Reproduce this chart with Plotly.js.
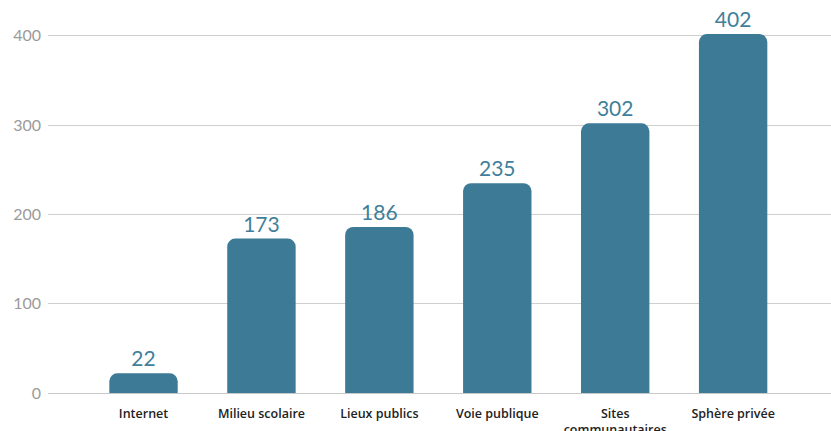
<!DOCTYPE html>
<html><head><meta charset="utf-8">
<script src="https://cdn.plot.ly/plotly-3.0.1.min.js"></script>
<style>html,body{margin:0;padding:0;background:#fff;}#chart{width:831px;height:431px;}</style>
</head><body><div id="chart"></div>
<script>
const categories = ["Internet", "Milieu scolaire", "Lieux publics", "Voie publique", "Sites<br>communautaires", "Sphère privée"];
const values = [22, 173, 186, 235, 302, 402];
const yTicks = [0, 100, 200, 300, 400];

const trace = {
  type: 'bar',
  x: categories,
  y: values,
  text: values.map(String),
  textposition: 'outside',
  cliponaxis: false,
  textfont: {family: 'Lato, sans-serif', size: 21, color: '#3f7f9a'},
  marker: {color: '#3c7a95', cornerradius: 8},
  width: 0.58,
  hoverinfo: 'none'
};

const layout = {
  width: 831, height: 431,
  margin: {l: 48, r: 0, t: 18, b: 38},
  paper_bgcolor: '#fff', plot_bgcolor: '#fff',
  showlegend: false,
  bargap: 0.42,
  xaxis: {
    type: 'category',
    range: [-0.81, 5.83],
    showgrid: false, zeroline: false, showline: false,
    ticks: '',
    tickfont: {family: 'Open Sans, sans-serif', size: 12.5, color: '#222', weight: 600},
    ticklabelstandoff: 11
  },
  yaxis: {
    range: [0, 420],
    tickvals: yTicks,
    ticktext: yTicks.map(String),
    showgrid: true, gridcolor: '#cfcfcf', gridwidth: 1,
    zeroline: true, zerolinecolor: '#c8c8c8', zerolinewidth: 1,
    showline: false, ticks: '',
    tickfont: {family: 'Lato, sans-serif', size: 16, color: '#9a9a9a'},
    ticklabelstandoff: 6
  }
};

Plotly.newPlot('chart', [trace], layout, {staticPlot: true, displayModeBar: false});
</script>
</body></html>
